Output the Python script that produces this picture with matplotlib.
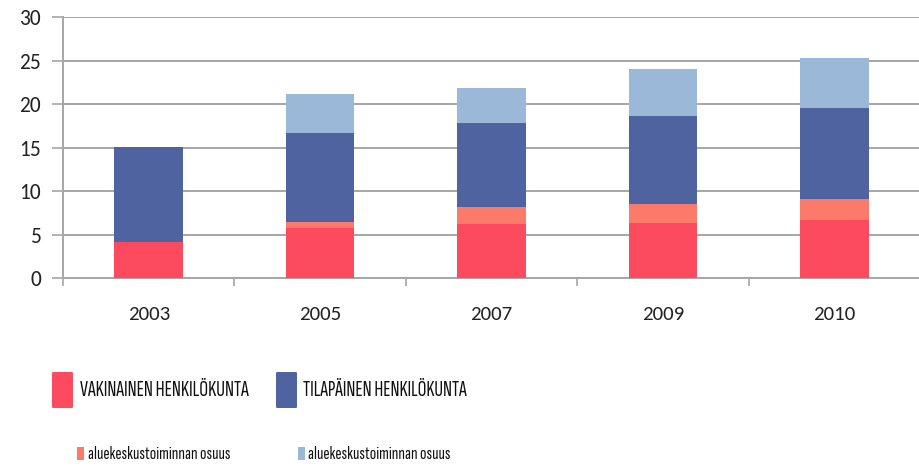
import matplotlib
matplotlib.use("Agg")
import matplotlib.pyplot as plt
from matplotlib.patches import Rectangle, FancyBboxPatch
import numpy as np

years = ["2003", "2005", "2007", "2009", "2010"]
vakinainen = [4.15, 5.75, 6.2, 6.4, 6.7]
vak_alue = [0.0, 0.75, 1.95, 2.15, 2.4]
tilapainen = [10.95, 10.15, 9.65, 10.05, 10.45]
til_alue = [0.0, 4.5, 4.1, 5.5, 5.8]

labels_big = ["VAKINAINEN HENKILÖKUNTA", "TILAPÄINEN HENKILÖKUNTA"]
labels_small = ["aluekeskustoiminnan osuus", "aluekeskustoiminnan osuus"]
colors = ["#FC4A5E", "#FB7A69", "#4F63A0", "#9CB8D9"]

TICKFONT = ["Carlito", "DejaVu Sans"]
LEGFONT = ["Sofia Sans Extra Condensed", "Fira Sans Extra Condensed", "Roboto Condensed", "DejaVu Sans"]
plt.rcParams['font.family'] = TICKFONT

W, H = 919, 467
fig = plt.figure(figsize=(W / 100, H / 100), dpi=100)
ax = fig.add_axes([63 / W, 1 - 278.3 / H, (920 - 63) / W, (278.3 - 17.3) / H])

x = np.arange(len(years))
series = [vakinainen, vak_alue, tilapainen, til_alue]
bottom = np.zeros(len(years))
for vals, c in zip(series, colors):
    ax.bar(x, vals, width=0.4, bottom=bottom, color=c, zorder=3, linewidth=0)
    bottom += np.array(vals)

ax.set_xlim(-0.5, len(years) - 0.5)
ax.set_ylim(0, 30)
ax.set_yticks(range(0, 31, 5))
ax.yaxis.grid(True, color="#A6A6A6", linewidth=1.4, zorder=0)
ax.set_axisbelow(True)

ax.set_xticks(np.arange(-0.5, len(years) - 0.5, 1.0))
ax.set_xticklabels([])
ax.set_xticks(x, minor=True)
ax.set_xticklabels(years, minor=True)
ax.tick_params(axis="x", which="major", length=6, width=1.2, color="#A6A6A6")
ax.tick_params(axis="x", which="minor", length=0, pad=20, labelsize=15, labelcolor="#222222")
ax.tick_params(axis="y", length=8, width=1.2, color="#A6A6A6", labelsize=15.5, labelcolor="#222222", pad=8)

for s in ["top", "right"]:
    ax.spines[s].set_visible(False)
for s in ["left", "bottom"]:
    ax.spines[s].set_color("#A6A6A6")
    ax.spines[s].set_linewidth(1.4)

def fx(px):
    return px / W

def fy(py):
    return 1 - py / H

renderer = fig.canvas.get_renderer()

def fit_text(tx, ty, label, target_w, base=14):
    t = fig.text(fx(tx), fy(ty), label, fontsize=base, va="center", ha="left",
                 color="#111111", family=LEGFONT)
    w = t.get_window_extent(renderer).width
    t.set_fontsize(base * target_w / w)
    return t

big = [(52, labels_big[0], colors[0], 80, 169), (276, labels_big[1], colors[2], 303, 164)]
for sx, lab, c, tx, tw in big:
    fig.patches.append(FancyBboxPatch((fx(sx), fy(408)), 21 / W, 36 / H,
                                      boxstyle="round,pad=0,rounding_size=0.002",
                                      transform=fig.transFigure, facecolor=c,
                                      edgecolor="none"))
    fit_text(tx, 391, lab, tw)

small = [(77, labels_small[0], colors[1], 88, 142), (298, labels_small[1], colors[3], 308, 142)]
for sx, lab, c, tx, tw in small:
    fig.patches.append(Rectangle((fx(sx), fy(459.5)), 7 / W, 13 / H,
                                 transform=fig.transFigure, facecolor=c, edgecolor="none"))
    fit_text(tx, 454, lab, tw, base=12)

fig.savefig("out.png", dpi=100)
